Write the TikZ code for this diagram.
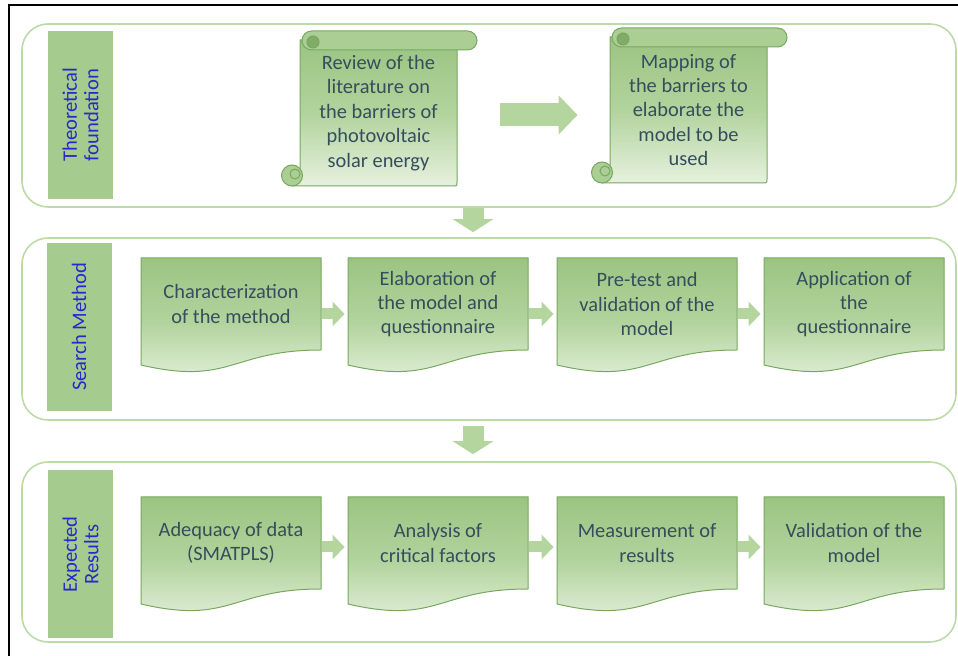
\documentclass[tikz,border=0pt]{standalone}
\usepackage{fontspec}
\setmainfont{Carlito}
\usetikzlibrary{arrows.meta,shapes}

\definecolor{panelline}{RGB}{188,218,168}
\definecolor{labelgreen}{RGB}{165,204,142}
\definecolor{labelblue}{RGB}{40,40,205}
\definecolor{doctop}{RGB}{155,196,130}
\definecolor{docmid}{RGB}{178,211,157}
\definecolor{docbot}{RGB}{230,241,222}
\definecolor{docline}{RGB}{120,168,95}
\definecolor{inktext}{RGB}{52,78,92}
\definecolor{arrowgreen}{RGB}{180,214,158}
\definecolor{rollgreen}{RGB}{170,206,148}
\definecolor{curlgreen}{RGB}{128,172,104}

\tikzset{
  panel/.style={draw=panelline, line width=0.8pt, rounded corners=13pt, minimum width=467pt, inner sep=0pt},
  stagelabel/.style={fill=labelgreen, rotate=90, text=labelblue, align=center, font=\fontsize{10.3}{10.8}\selectfont, minimum width=84pt, minimum height=32.5pt, inner sep=0pt},
  docfill/.style={draw=docline, line width=0.5pt, top color=doctop, bottom color=docbot, middle color=docmid},
  rollfill/.style={draw=docline, line width=0.5pt, fill=rollgreen},
  doctext/.style={text=inktext, align=center, font=\fontsize{10.2}{12.2}\selectfont, minimum width=90pt, inner sep=0pt},
  smallblock/.style={draw=arrowgreen, line width=5.5pt, -{Triangle[length=6pt,width=12pt]}, shorten <=0.5pt, shorten >=1.5pt},
  bigblock/.style={draw=arrowgreen, line width=11.5pt, -{Triangle[length=9.5pt,width=19pt]}, shorten <=21.5pt, shorten >=16pt},
  downblock/.style={draw=arrowgreen, line width=10.5pt, -{Triangle[length=6.5pt,width=20pt]}}
}

% document shape, #1 name, #2 left, #3 top, #4 text
\newcommand{\docbox}[4]{%
  \begin{scope}[shift={(#2,#3)}]
    \path[docfill] (0,0) -- (180,0) -- (180,92) .. controls (90,92) and (90,128) .. (0,107) -- cycle;
    \node[doctext] (#1) at (90,46) {#4};
  \end{scope}}

% vertical scroll, #1 name, #2 left, #3 top, #4 text
\newcommand{\scrollbox}[4]{%
  \begin{scope}[shift={(#2,#3)}]
    \path[docfill] (0,9) -- (157,9) -- (157,151) .. controls (157,155) .. (153,155) -- (-8,155) -- (0,144) -- cycle;
    \path[rollfill] (-8,144.5) circle (10.5);
    \draw[docline, line width=0.5pt] (-5,143) circle (5);
    \path[rollfill, rounded corners=4.75pt] (2,0) rectangle (177,19);
    \path[draw=docline, line width=0.5pt, fill=curlgreen] (13,11) circle (6);
    \node[doctext, minimum width=78.5pt] (#1) at (78.5,82) {#4};
  \end{scope}}

\begin{document}
\begin{tikzpicture}[x=0.5pt, y=-0.5pt]
  \useasboundingbox (0,0) rectangle (958,656);
  \draw[line width=1pt] (9,656) -- (9,5) -- (958,5);

  % Theoretical foundation
  \node[panel, minimum height=91.5pt] (p1) at (489,115.5) {};
  \node[stagelabel] (l1) at (80.5,115) {Theoretical\\foundation};
  \scrollbox{s1}{300}{31}{Review of the\\literature on\\the barriers of\\photovoltaic\\solar energy}
  \scrollbox{s2}{610}{28}{Mapping of\\the barriers to\\elaborate the\\model to be\\used}
  \draw[bigblock] ([yshift=-1pt]s1.east) -- ([yshift=-1pt]s2.west |- s1.east);

  % Search Method
  \node[panel, minimum height=91pt] (p2) at (489,329) {};
  \node[stagelabel] (l2) at (79,327) {Search Method};
  \docbox{m1}{141}{258}{Characterization\\of the method}
  \docbox{m2}{348}{258}{Elaboration of\\the model and\\questionnaire}
  \docbox{m3}{557}{258}{Pre-test and\\validation of the\\model}
  \docbox{m4}{764}{258}{Application of\\the\\questionnaire}
  \foreach \a/\b in {m1/m2, m2/m3, m3/m4}
    \draw[smallblock] ([yshift=-5pt]\a.east) -- ([yshift=-5pt]\b.west);

  % Expected Results
  \node[panel, minimum height=90pt] (p3) at (489,552) {};
  \node[stagelabel] (l3) at (80.5,554.5) {Expected\\Results};
  \docbox{r1}{141}{497}{Adequacy of data\\(SMATPLS)}
  \docbox{r2}{348}{497}{Analysis of\\critical factors}
  \docbox{r3}{557}{497}{Measurement of\\results}
  \docbox{r4}{764}{497}{Validation of the\\model}
  \foreach \a/\b in {r1/r2, r2/r3, r3/r4}
    \draw[smallblock] ([yshift=-2pt]\a.east) -- ([yshift=-2pt]\b.west);

  % between the stages
  \draw[downblock, shorten <=0pt, shorten >=2.5pt] ([xshift=-8pt]p1.south) -- ([xshift=-8pt]p2.north);
  \draw[downblock, shorten <=2.5pt, shorten >=3.5pt] ([xshift=-8pt]p2.south) -- ([xshift=-8pt]p3.north);
\end{tikzpicture}
\end{document}
